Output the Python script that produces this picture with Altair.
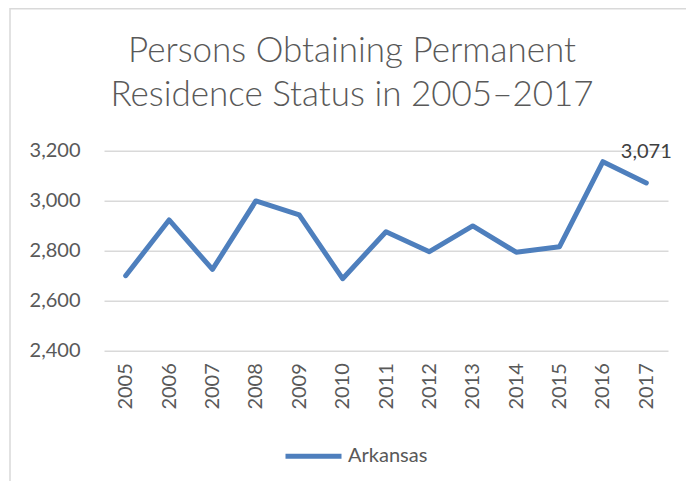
import altair as alt
import pandas as pd

years = ["2005", "2006", "2007", "2008", "2009", "2010", "2011", "2012",
         "2013", "2014", "2015", "2016", "2017"]
values = [2700, 2923, 2725, 2999, 2943, 2688, 2876, 2796, 2899, 2794, 2816, 3156, 3071]
series = "Arkansas"
y_ticks = [2400, 2600, 2800, 3000, 3200]
title_lines = ["Persons Obtaining Permanent", "Residence Status in 2005\u20132017"]

df = pd.DataFrame({"Year": years, "Value": values, "Series": [series] * len(years)})
last = df.tail(1)

FONT = "Lato"
TXT = "#595959"
BLUE = "#4e7fbd"

x_enc = alt.X("Year:O", sort=years, title=None,
              scale=alt.Scale(paddingOuter=0.5),
              axis=alt.Axis(labelAngle=-90, labelAlign="right", labelBaseline="middle",
                            labelPadding=12, ticks=False, domain=False, grid=False,
                            labelFont=FONT, labelFontSize=20, labelColor=TXT))
y_enc = alt.Y("Value:Q", title=None,
              scale=alt.Scale(domain=[2400, 3200], nice=False, zero=False),
              axis=alt.Axis(values=y_ticks, format=",d", ticks=False, domain=False,
                            grid=True, gridColor="#d9d9d9", gridWidth=1.5,
                            labelPadding=24, labelFont=FONT, labelFontSize=20,
                            labelColor=TXT))

line = alt.Chart(df).mark_line(strokeWidth=5, strokeCap="round", strokeJoin="round").encode(
    x=x_enc, y=y_enc,
    color=alt.Color("Series:N", scale=alt.Scale(range=[BLUE]), title=None,
                    legend=alt.Legend(orient="none", legendX=179, legendY=275,
                                      symbolType="stroke", symbolSize=3136,
                                      symbolStrokeWidth=5, labelOffset=4,
                                      labelFont=FONT, labelFontSize=20, labelColor=TXT,
                                      padding=0))
)

label = alt.Chart(last).mark_text(font=FONT, fontSize=20, color="#404040",
                                  baseline="alphabetic", align="center", dy=-25).encode(
    x=alt.X("Year:O", sort=years), y="Value:Q",
    text=alt.Text("Value:Q", format=",d"))

border = alt.Chart(pd.DataFrame({"a": [0]})).mark_rect(
    fill=None, stroke="#d9d9d9", strokeWidth=1.5).encode(
    x=alt.value(-94), x2=alt.value(700), y=alt.value(-142), y2=alt.value(600))

chart = alt.layer(border, line, label).properties(
    width=564, height=200,
    autosize=alt.AutoSizeParams(type="none"),
    padding={"left": 96, "top": 142.7, "right": 18, "bottom": 130.3},
    title=alt.TitleParams(text=title_lines, font=FONT, fontSize=35, fontWeight=300,
                          color=TXT, lineHeight=44, anchor="middle", dx=-34, offset=-105),
).configure_view(stroke=None)

chart.save("out.html", embed_options={"renderer": "svg", "actions": False})
